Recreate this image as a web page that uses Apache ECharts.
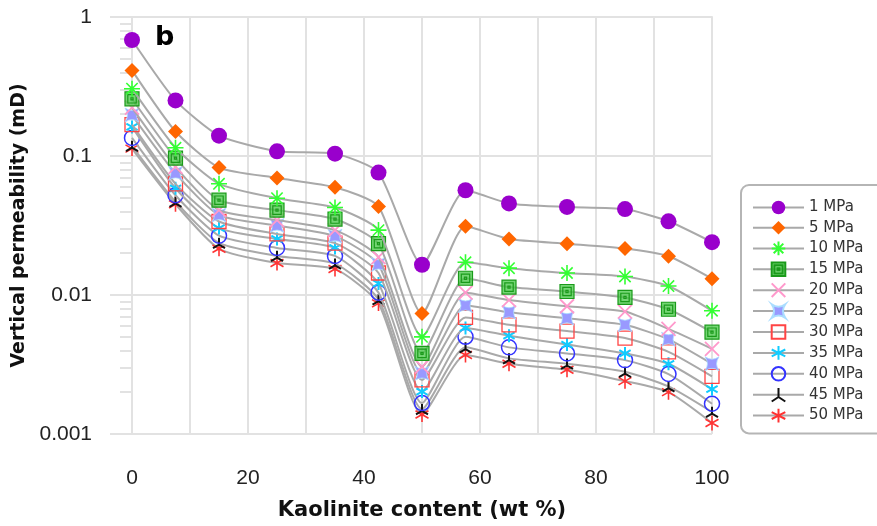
<!DOCTYPE html>
<html>
<head>
<meta charset="utf-8">
<script src="https://cdn.jsdelivr.net/npm/echarts@6/dist/echarts.min.js"></script>
<style>
    html, body { margin: 0; padding: 0; background: #fff; }
    #chart { width: 877px; height: 526px; }
</style>
</head>
<body>
<div id="chart"></div>
<script>
// kaolinite content (wt %)
var kaolinite = [0, 7.5, 15, 25, 35, 42.5, 50, 57.5, 65, 75, 85, 92.5, 100];
var pressures = ['1 MPa', '5 MPa', '10 MPa', '15 MPa', '20 MPa', '25 MPa', '30 MPa', '35 MPa', '40 MPa', '45 MPa', '50 MPa'];
// vertical permeability (mD), one array per confining pressure
var perm1 = [0.683, 0.251, 0.140, 0.108, 0.104, 0.076, 0.0165, 0.0567, 0.0456, 0.0430, 0.0415, 0.0339, 0.0240];
var perm5 = [0.413, 0.150, 0.0825, 0.0695, 0.0596, 0.0434, 0.00735, 0.0312, 0.0253, 0.0234, 0.0216, 0.0190, 0.0131];
var perm10 = [0.305, 0.1147, 0.0631, 0.0497, 0.0426, 0.0293, 0.0050, 0.0172, 0.0156, 0.0144, 0.0136, 0.0116, 0.0077];
var perm15 = [0.258, 0.0966, 0.0481, 0.0408, 0.0352, 0.0234, 0.0038, 0.0132, 0.0114, 0.0106, 0.0096, 0.0079, 0.0054];
var perm20 = [0.223, 0.0836, 0.0408, 0.0346, 0.0293, 0.0187, 0.00305, 0.0104, 0.0092, 0.0083, 0.0076, 0.0057, 0.0041];
var perm25 = [0.197, 0.0751, 0.0376, 0.0316, 0.0265, 0.0166, 0.00273, 0.0084, 0.0075, 0.0068, 0.0061, 0.0048, 0.0032];
var perm30 = [0.168, 0.0631, 0.0338, 0.0275, 0.0236, 0.0144, 0.00245, 0.0069, 0.0061, 0.0055, 0.0049, 0.0039, 0.0026];
var perm35 = [0.162, 0.0586, 0.0303, 0.0253, 0.0218, 0.0121, 0.00202, 0.0058, 0.0051, 0.0044, 0.0038, 0.0032, 0.0021];
var perm40 = [0.135, 0.0522, 0.0267, 0.0218, 0.0191, 0.0104, 0.00167, 0.0050, 0.0042, 0.0038, 0.0034, 0.0027, 0.00165];
var perm45 = [0.118, 0.0469, 0.0237, 0.0191, 0.0168, 0.0093, 0.00151, 0.0042, 0.0035, 0.0032, 0.0028, 0.0022, 0.00144];
var perm50 = [0.113, 0.0450, 0.0215, 0.0170, 0.0154, 0.0087, 0.00138, 0.0037, 0.0032, 0.0029, 0.0024, 0.0020, 0.0012];
var permAll = [perm1, perm5, perm10, perm15, perm20, perm25, perm30, perm35, perm40, perm45, perm50];

// axis ticks
var yTicks = [0.001, 0.01, 0.1, 1];
var yTickLabels = ['0.001', '0.01', '0.1', '1'];
var yMinorTicks = [0.002, 0.003, 0.004, 0.005, 0.006, 0.007, 0.008, 0.009,
    0.02, 0.03, 0.04, 0.05, 0.06, 0.07, 0.08, 0.09,
    0.2, 0.3, 0.4, 0.5, 0.6, 0.7, 0.8, 0.9];

var gridGray = '#e2e2e2';
var lineGray = '#a9a9a9';

// marker styles
var star8 = 'path://M0,-10L0,10M-10,0L10,0M-7.07,-7.07L7.07,7.07M-7.07,7.07L7.07,-7.07';
var star6 = 'path://M0,-10L0,10M-8.66,-5L8.66,5M-8.66,5L8.66,-5';
var markers = [
    { symbol: 'circle', size: 16, style: { color: '#9900cc' } },
    { symbol: 'diamond', size: 15, style: { color: '#ff6600' } },
    { symbol: star8, size: 16, style: { color: 'rgba(0,0,0,0)', borderColor: '#33ff33', borderWidth: 1.6 } },
    { symbol: 'path://M0,0H20V20H0ZM4,4H16V16H4ZM8.5,8.5H11.5V11.5H8.5Z', size: 14, style: { color: 'rgba(70,200,70,0.75)', borderColor: '#1a9a1a', borderWidth: 1.2 } },
    { symbol: 'path://M-10,-10L10,10M-10,10L10,-10', size: 14, style: { color: 'rgba(0,0,0,0)', borderColor: '#ff99cc', borderWidth: 1.8 } },
    { symbol: 'path://M0,0Q10,7 20,0Q13,10 20,20Q10,13 0,20Q7,10 0,0Z', size: 14, style: { color: '#9999ff', borderColor: '#aaddff', borderWidth: 0.8 } },
    { symbol: 'path://M0,0H20V20H0Z', size: 14, style: { color: 'rgba(0,0,0,0)', borderColor: '#ff4444', borderWidth: 1.3 } },
    { symbol: star6, size: 13, style: { color: 'rgba(0,0,0,0)', borderColor: '#11ccff', borderWidth: 2 } },
    { symbol: 'path://M10,0A10,10 0 1,1 10,20A10,10 0 1,1 10,0Z', size: 15, style: { color: 'rgba(0,0,0,0)', borderColor: '#3333ff', borderWidth: 1.5 } },
    { symbol: 'path://M0,-10L0,0M0,0L-8.66,5M0,0L8.66,5', size: 12, style: { color: 'rgba(0,0,0,0)', borderColor: '#111111', borderWidth: 2 } },
    { symbol: star6, size: 15, style: { color: 'rgba(0,0,0,0)', borderColor: '#ff3333', borderWidth: 1.6 } }
];

var series = [];
for (var i = 0; i < pressures.length; i++) {
    var pts = [];
    for (var j = 0; j < kaolinite.length; j++) {
        pts.push([kaolinite[j], permAll[i][j]]);
    }
    series.push({
        name: pressures[i],
        type: 'line',
        data: pts,
        smooth: 0.2,
        symbol: markers[i].symbol,
        symbolSize: markers[i].size,
        symbolKeepAspect: true,
        lineStyle: { color: lineGray, width: 2 },
        itemStyle: markers[i].style,
        emphasis: { disabled: true },
        z: 2 + (pressures.length - i)
    });
}

var myChart = echarts.init(document.getElementById('chart'));
var option = {
    animation: false,
    backgroundColor: '#ffffff',
    title: {
        text: 'b',
        left: 155,
        top: 24,
        padding: 0,
        textStyle: { fontSize: 27, fontWeight: 'bold', fontFamily: 'DejaVu Sans', color: '#000' }
    },
    grid: { left: 132, right: 165, top: 17, bottom: 90 },
    legend: {
        orient: 'vertical',
        left: 741,
        top: 185,
        padding: [15, 40, 10, 11],
        itemWidth: 51,
        itemHeight: 17,
        itemGap: 5.3,
        borderColor: '#b5b5b5',
        borderWidth: 2,
        borderRadius: 8,
        backgroundColor: '#fff',
        textStyle: { fontFamily: 'DejaVu Sans', fontSize: 15, color: '#333' },
        data: pressures
    },
    xAxis: {
        type: 'value',
        min: 0,
        max: 100,
        interval: 20,
        name: 'Kaolinite content (wt %)',
        nameLocation: 'middle',
        nameGap: 66,
        nameTextStyle: { fontFamily: 'DejaVu Sans', fontWeight: 'bold', fontSize: 21, color: '#111' },
        axisLine: { lineStyle: { color: gridGray, width: 2 } },
        axisTick: { show: true, length: 18, lineStyle: { color: gridGray, width: 2 } },
        minorTick: { show: true, splitNumber: 2, length: 10, lineStyle: { color: gridGray, width: 2 } },
        splitLine: { show: true, lineStyle: { color: gridGray, width: 2 } },
        minorSplitLine: { show: true, lineStyle: { color: gridGray, width: 2 } },
        axisLabel: { margin: 34, fontFamily: 'Liberation Sans', fontSize: 21, color: '#222' }
    },
    yAxis: [{
        type: 'log',
        logBase: 10,
        min: 0.001,
        max: 1,
        name: 'Vertical permeability (mD)',
        nameLocation: 'middle',
        nameGap: 93,
        nameTextStyle: { fontFamily: 'DejaVu Sans', fontWeight: 'bold', fontSize: 19, color: '#111' },
        axisLine: { show: true, lineStyle: { color: gridGray, width: 2 } },
        axisTick: { show: true, length: 22, lineStyle: { color: gridGray, width: 2 } },
        splitLine: { show: true, lineStyle: { color: gridGray, width: 2 } },
        axisLabel: {
            margin: 40,
            fontFamily: 'Liberation Sans',
            fontSize: 21,
            color: '#222',
            formatter: function(v) {
                for (var k = 0; k < yTicks.length; k++) {
                    if (Math.abs(v - yTicks[k]) < yTicks[k] * 1e-6) {
                        return yTickLabels[k];
                    }
                }
                return '';
            }
        }
    }, {
        // minor ticks (2..9 of each decade) drawn on a hidden linear axis in log10 units
        type: 'value',
        position: 'left',
        min: -3,
        max: 0,
        axisLine: { show: false },
        splitLine: { show: false },
        axisLabel: { show: false },
        axisTick: {
            show: true,
            length: 12,
            customValues: yMinorTicks.map(function(v) { return Math.log10(v); }),
            lineStyle: { color: gridGray, width: 2 }
        }
    }],
    series: series
};
myChart.setOption(option);
</script>
</body>
</html>
